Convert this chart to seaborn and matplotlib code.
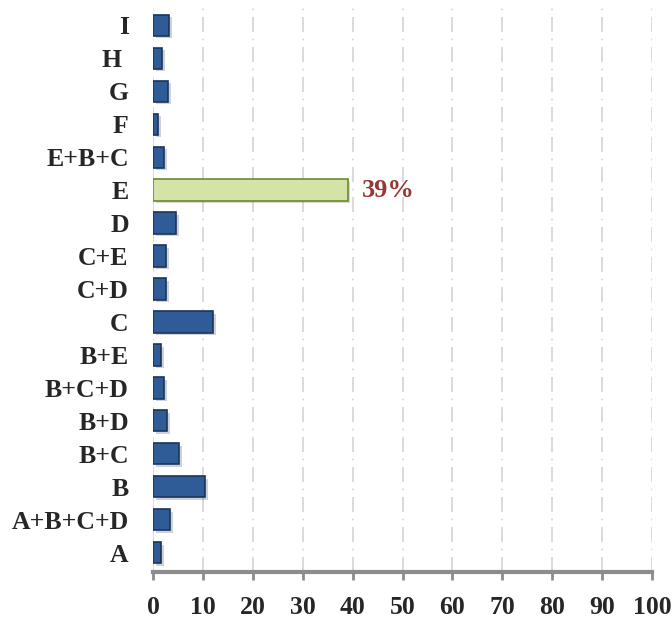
import seaborn as sns
import pandas as pd
import matplotlib.pyplot as plt
import matplotlib.patheffects as pe

sns.set_style('white')
plt.rcParams['font.family'] = ['Liberation Serif', 'DejaVu Serif']
plt.rcParams['font.weight'] = 'bold'

categories = ['I', 'H ', 'G', 'F', 'E+B+C', 'E', 'D', 'C+E', 'C+D', 'C',
              'B+E', 'B+C+D', 'B+D', 'B+C', 'B', 'A+B+C+D', 'A']
values = [3.3, 1.9, 3.0, 1.0, 2.2, 39, 4.6, 2.6, 2.6, 12.1,
          1.7, 2.2, 2.9, 5.2, 10.4, 3.4, 1.7]
highlight = 'E'
highlight_label = '39%'

df = pd.DataFrame({'category': categories, 'value': values})
palette = {c: ('#d3e4a6' if c == highlight else '#2f5b96') for c in categories}

fig = plt.figure(figsize=(6.72, 6.24), dpi=100)
ax = fig.add_axes([153 / 672, 52 / 624, 499 / 672, 566 / 624])

sns.barplot(data=df, y='category', x='value', hue='category', palette=palette,
            order=categories, orient='h', width=0.64, legend=False, ax=ax,
            saturation=1)

for patch, c in zip(ax.patches, categories):
    patch.set_edgecolor('#6a8a2e' if c == highlight else '#1b355c')
    patch.set_linewidth(1.2)
    patch.set_path_effects([pe.SimplePatchShadow(offset=(2, -2), alpha=0.2), pe.Normal()])

ax.set_xlim(0, 100)
ax.set_ylim(len(categories) - 0.42, -0.58)
ax.set_xticks(range(0, 101, 10))
ax.xaxis.grid(True, color='#d4d4d4', linestyle=(0, (9, 4, 1, 4)), linewidth=1.2)
ax.set_axisbelow(True)

for s in ['top', 'right', 'left']:
    ax.spines[s].set_visible(False)
ax.spines['bottom'].set_color('#8c8c8c')
ax.spines['bottom'].set_linewidth(3)
ax.tick_params(axis='x', bottom=True, length=6, width=2, color='#8c8c8c',
               pad=11, labelsize=18.5, direction='out')
ax.tick_params(axis='y', left=False, pad=14, labelsize=18.5)
for t in ax.get_xticklabels() + ax.get_yticklabels():
    t.set_fontweight('bold')
ax.set_xlabel('')
ax.set_ylabel('')

idx = categories.index(highlight)
ax.text(values[idx] + 2.8, idx, highlight_label, color='#953735', fontsize=19,
        fontweight='bold', va='center', ha='left')

fig.savefig('out.png', dpi=100)
